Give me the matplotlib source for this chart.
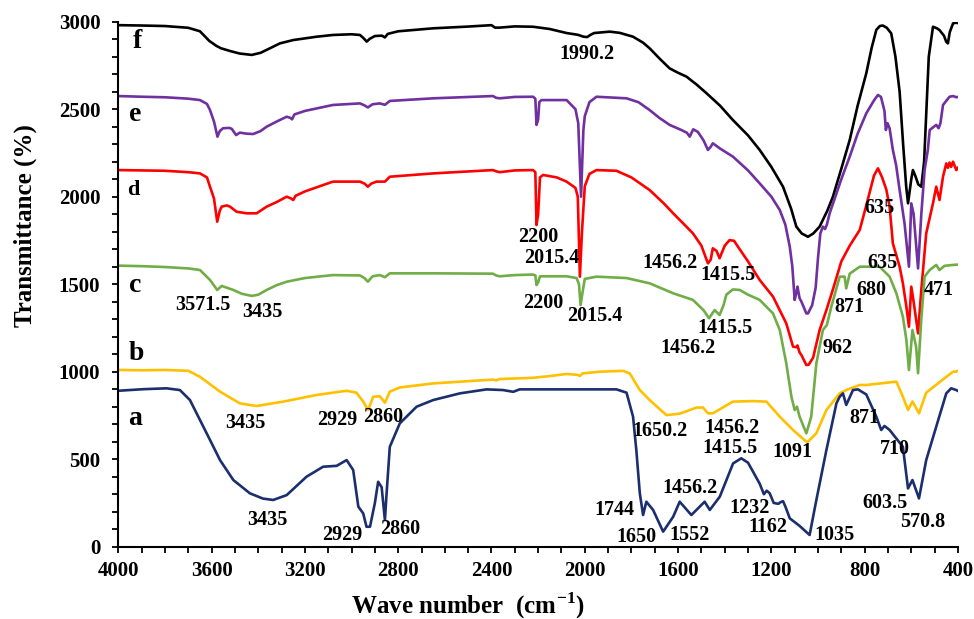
import matplotlib
matplotlib.use('Agg')
import matplotlib.pyplot as plt
import matplotlib.ticker as ticker

# FTIR spectra (wave number cm-1, transmittance offset)
f_wn = [4000, 3900, 3800, 3700, 3650, 3610, 3580, 3560, 3520, 3480, 3428, 3390, 3350, 3307, 3250, 3150,
        3080, 3000, 2964, 2948, 2935, 2922, 2900, 2870, 2857, 2845, 2800, 2650, 2500, 2400, 2385, 2365,
        2300, 2222, 2150, 2078, 2030, 2005, 1990, 1975, 1960, 1893, 1850, 1793, 1750, 1722, 1680, 1636,
        1600, 1564, 1520, 1478, 1420, 1365, 1300, 1250, 1200, 1150, 1115, 1093, 1070, 1043, 1020, 993,
        960, 936, 900, 864, 830, 793, 770, 750, 735, 722, 705, 686, 668, 650, 635, 622, 614, 600, 593,
        583, 570, 557, 545, 535, 525, 507, 490, 479, 460, 450, 443, 435, 421, 410, 400]
f_val = [2980, 2978, 2975, 2965, 2945, 2890, 2862, 2848, 2832, 2818, 2810, 2822, 2848, 2876, 2895, 2914,
         2924, 2928, 2924, 2905, 2886, 2902, 2918, 2920, 2910, 2930, 2945, 2962, 2972, 2980, 2966, 2966,
         2973, 2971, 2958, 2935, 2925, 2914, 2912, 2925, 2935, 2943, 2936, 2914, 2880, 2848, 2790, 2733,
         2708, 2686, 2640, 2591, 2520, 2438, 2350, 2267, 2170, 2057, 1930, 1829, 1790, 1771, 1790, 1829,
         1920, 2000, 2160, 2324, 2520, 2705, 2850, 2953, 2975, 2978, 2965, 2933, 2800, 2600, 2300, 2060,
         1962, 2100, 2152, 2120, 2070, 2057, 2200, 2500, 2800, 2971, 2962, 2952, 2920, 2885, 2876, 2940,
         2990, 2994, 2992]

e_wn = [4000, 3900, 3800, 3700, 3650, 3620, 3607, 3590, 3575, 3565, 3551, 3525, 3514, 3495, 3479, 3450,
        3422, 3390, 3364, 3320, 3278, 3262, 3255, 3245, 3200, 3080, 2964, 2945, 2930, 2910, 2879, 2857,
        2836, 2650, 2394, 2380, 2365, 2300, 2222, 2212, 2207, 2200, 2195, 2186, 2078, 2040, 2028, 2016,
        2006, 2000, 1980, 1950, 1821, 1770, 1722, 1680, 1636, 1586, 1562, 1550, 1535, 1515, 1490, 1472,
        1460, 1451, 1420, 1365, 1300, 1250, 1200, 1164, 1140, 1121, 1110, 1100, 1093, 1088, 1079, 1071,
        1050, 1043, 1025, 1010, 1000, 990, 979, 970, 962, 950, 900, 864, 830, 793, 760, 743, 730, 715,
        709, 702, 693, 679, 665, 650, 629, 610, 600, 590, 571, 557, 543, 529, 521, 493, 483, 475, 464,
        436, 420, 407, 400]
e_val = [2575, 2571, 2568, 2560, 2552, 2530, 2495, 2430, 2343, 2375, 2391, 2393, 2388, 2352, 2366, 2360,
         2358, 2375, 2400, 2430, 2457, 2450, 2442, 2470, 2490, 2524, 2533, 2522, 2510, 2528, 2533, 2525,
         2547, 2562, 2575, 2565, 2562, 2570, 2571, 2560, 2410, 2440, 2540, 2552, 2552, 2500, 2420, 2000,
         2380, 2460, 2540, 2571, 2562, 2540, 2495, 2450, 2410, 2381, 2365, 2343, 2385, 2370, 2320, 2267,
         2285, 2305, 2275, 2229, 2150, 2076, 2000, 1924, 1840, 1714, 1600, 1410, 1450, 1486, 1420, 1400,
         1333, 1333, 1380, 1480, 1650, 1790, 1829, 1815, 1840, 1905, 2100, 2229, 2360, 2476, 2550, 2581,
         2570, 2490, 2381, 2420, 2391, 2267, 2180, 2038, 1848, 1600, 1962, 1900, 1590, 1900, 2152, 2267,
         2381, 2410, 2391, 2420, 2524, 2571, 2575, 2568, 2570]

d_wn = [4000, 3900, 3800, 3700, 3650, 3620, 3607, 3590, 3576, 3565, 3557, 3535, 3521, 3493, 3450, 3407,
        3364, 3320, 3278, 3260, 3250, 3240, 3200, 3080, 2964, 2945, 2930, 2915, 2893, 2857, 2836, 2650,
        2394, 2380, 2365, 2300, 2222, 2212, 2207, 2200, 2192, 2179, 2120, 2078, 2040, 2030, 2021, 2012,
        2000, 1980, 1950, 1864, 1800, 1722, 1660, 1621, 1580, 1536, 1500, 1472, 1460, 1451, 1435, 1422,
        1400, 1379, 1360, 1336, 1300, 1250, 1193, 1136, 1107, 1093, 1088, 1079, 1071, 1050, 1040, 1021,
        993, 964, 936, 900, 864, 821, 793, 760, 743, 725, 707, 693, 679, 650, 636, 621, 610, 600, 590,
        571, 557, 536, 507, 493, 479, 464, 450, 443, 436, 429, 421, 407, 400]
d_val = [2152, 2150, 2148, 2140, 2133, 2110, 2057, 1990, 1857, 1920, 1943, 1950, 1943, 1914, 1905, 1905,
         1943, 1970, 2000, 1990, 1981, 2005, 2030, 2086, 2086, 2075, 2057, 2075, 2086, 2086, 2114, 2133,
         2152, 2145, 2140, 2150, 2152, 2140, 1838, 1900, 2110, 2124, 2110, 2086, 2050, 2000, 1543, 1800,
         2060, 2130, 2152, 2148, 2110, 2038, 1960, 1905, 1850, 1790, 1720, 1619, 1640, 1705, 1690, 1648,
         1720, 1752, 1748, 1700, 1630, 1524, 1429, 1276, 1143, 1140, 1150, 1110, 1095, 1038, 1040, 1080,
         1238, 1352, 1470, 1630, 1720, 1810, 1950, 2120, 2162, 2110, 2040, 1943, 1733, 1600, 1505, 1371,
         1257, 1486, 1400, 1219, 1467, 1790, 1962, 2057, 1981, 2114, 2190, 2165, 2195, 2170, 2200, 2152,
         2165]

c_wn = [4000, 3900, 3800, 3700, 3650, 3607, 3576, 3557, 3507, 3470, 3428, 3400, 3364, 3320, 3278, 3200,
        3080, 2964, 2945, 2930, 2910, 2879, 2857, 2836, 2650, 2394, 2380, 2365, 2300, 2222, 2212, 2207,
        2200, 2192, 2078, 2035, 2025, 2018, 2010, 2000, 1950, 1821, 1722, 1621, 1536, 1490, 1467, 1455,
        1443, 1422, 1405, 1393, 1365, 1336, 1300, 1250, 1193, 1164, 1136, 1114, 1100, 1090, 1079, 1050,
        1029, 1007, 979, 962, 943, 907, 886, 879, 864, 821, 736, 693, 664, 636, 621, 610, 595, 579, 571,
        557, 543, 521, 493, 479, 457, 421, 400]
c_val = [1606, 1603, 1598, 1590, 1581, 1524, 1467, 1490, 1467, 1445, 1433, 1440, 1467, 1495, 1514, 1535,
         1552, 1550, 1535, 1514, 1545, 1552, 1540, 1562, 1562, 1560, 1550, 1545, 1552, 1555, 1550, 1495,
         1510, 1545, 1545, 1535, 1500, 1381, 1450, 1530, 1543, 1535, 1505, 1448, 1410, 1350, 1305, 1330,
         1352, 1324, 1380, 1440, 1470, 1467, 1440, 1410, 1333, 1238, 1048, 857, 781, 800, 743, 648,
         743, 1048, 1238, 1267, 1371, 1543, 1543, 1476, 1560, 1600, 1600, 1543, 1448, 1314, 1181, 1010,
         1238, 1140, 991, 1300, 1543, 1581, 1610, 1581, 1605, 1610, 1612]

b_wn = [4000, 3900, 3800, 3700, 3650, 3564, 3479, 3407, 3293, 3150, 3021, 2979, 2950, 2929, 2907, 2879,
        2857, 2836, 2793, 2650, 2394, 2380, 2365, 2222, 2150, 2078, 2030, 2021, 2010, 1936, 1836, 1807,
        1764, 1722, 1650, 1593, 1521, 1493, 1472, 1451, 1415, 1365, 1279, 1221, 1164, 1107, 1050, 1043,
        1007, 964, 907, 879, 821, 793, 664, 636, 614, 595, 567, 536, 479, 421, 407, 400]
b_val = [1010, 1008, 1010, 1005, 971, 886, 819, 804, 829, 867, 891, 880, 829, 781, 857, 860,
         823, 886, 910, 933, 955, 950, 958, 965, 975, 987, 982, 975, 990, 1000, 1005, 990,
         895, 838, 752, 760, 795, 795, 762, 762, 790, 829, 832, 829, 743, 667, 600, 600,
         648, 781, 876, 895, 924, 924, 943, 857, 781, 830, 762, 880, 940, 1000, 1000, 1005]

a_wn = [4000, 3893, 3793, 3736, 3693, 3650, 3607, 3564, 3507, 3436, 3380, 3336, 3278, 3193, 3122, 3064,
        3021, 2993, 2971, 2950, 2936, 2921, 2900, 2886, 2871, 2857, 2850, 2836, 2793, 2721, 2650, 2536,
        2421, 2350, 2307, 2279, 1864, 1821, 1793, 1779, 1764, 1750, 1736, 1707, 1664, 1621, 1593, 1543,
        1486, 1464, 1421, 1364, 1329, 1300, 1250, 1232, 1220, 1207, 1190, 1170, 1160, 1150, 1140, 1121,
        1080, 1036, 1007, 964, 921, 907, 893, 879, 850, 829, 793, 750, 729, 715, 693, 636, 614, 595,
        567, 536, 493, 450, 429, 407, 400]
a_val = [891, 900, 905, 895, 838, 724, 610, 495, 381, 305, 275, 267, 295, 400, 457, 462,
         495, 438, 229, 190, 114, 114, 250, 371, 340, 152, 300, 571, 705, 800, 838, 876,
         899, 895, 885, 899, 899, 880, 743, 552, 305, 181, 257, 210, 86, 171, 257, 181,
         257, 210, 286, 476, 505, 480, 360, 300, 320, 305, 250, 245, 255, 260, 230, 162,
         120, 67, 267, 552, 819, 857, 876, 810, 895, 899, 870, 743, 667, 690, 667, 571, 333, 381,
         276, 495, 686, 876, 905, 895, 890]

curve_names = ['f', 'e', 'd', 'c', 'b', 'a']
curve_colors = ['#000000', '#7030A0', '#FF0000', '#70AD47', '#FFC000', '#1B2F6E']

# peak labels: (text, wave number, transmittance)
peak_labels = [
    ('1990.2', 1991, 2815),
    ('2200', 2201, 1770), ('2015.4', 2141, 1650), ('1456.2', 1636, 1620), ('1415.5', 1387, 1553),
    ('635', 736, 1935), ('635', 723, 1620), ('680', 770, 1467), ('871', 864, 1370), ('471', 483, 1467),
    ('3571.5', 3637, 1381), ('3435', 3384, 1341), ('2200', 2180, 1393), ('2015.4', 1957, 1318),
    ('1415.5', 1400, 1250), ('1456.2', 1558, 1135), ('962', 916, 1135),
    ('3435', 3457, 707), ('2929', 3063, 724), ('2860', 2866, 741), ('1650.2', 1678, 661),
    ('1456.2', 1370, 678), ('1415.5', 1379, 564), ('1091', 1108, 541), ('871', 800, 735), ('710', 671, 558),
    ('1456.2', 1550, 335), ('1744', 1871, 210), ('1232', 1293, 221), ('603.5', 714, 250),
    ('570.8', 551, 141), ('1650', 1777, 55), ('1552', 1550, 67), ('1162', 1216, 112), ('1035', 928, 67),
    ('3435', 3363, 152), ('2929', 3041, 67), ('2860', 2793, 101),
]
letter_pos = [('f', 3920, 2884), ('e', 3929, 2467), ('d', 3937, 2038),
              ('c', 3929, 1495), ('b', 3921, 1105), ('a', 3929, 735)]

plt.rcParams['font.family'] = ['Liberation Serif', 'DejaVu Serif']
plt.rcParams['font.weight'] = 'bold'
plt.rcParams['mathtext.fontset'] = 'custom'
plt.rcParams['mathtext.rm'] = 'Liberation Serif:bold'
plt.rcParams['mathtext.bf'] = 'Liberation Serif:bold'

fig = plt.figure(figsize=(9.74, 6.19), dpi=100)
ax = fig.add_axes([0.1215, 0.1168, 0.862, 0.8482])

series = [(f_wn, f_val), (e_wn, e_val), (d_wn, d_val), (c_wn, c_val), (b_wn, b_val), (a_wn, a_val)]
for (wn, val), name, col in zip(series, curve_names, curve_colors):
    ax.plot(wn, val, color=col, lw=1.9, label=name, solid_joinstyle='round')

for txt, x, y in peak_labels:
    ax.text(x, y, txt, ha='center', va='center', fontsize=14.5, fontweight='bold')
for txt, x, y in letter_pos:
    ax.text(x, y, txt, ha='center', va='center', fontsize=16 if txt == 'd' else 20, fontweight='bold')

ax.set_xlim(4000, 400)
ax.set_ylim(0, 3000)
ax.xaxis.set_major_locator(ticker.MultipleLocator(400))
ax.xaxis.set_minor_locator(ticker.MultipleLocator(100))
ax.yaxis.set_major_locator(ticker.MultipleLocator(500))
ax.yaxis.set_minor_locator(ticker.MultipleLocator(100))
ax.tick_params(which='both', direction='out', length=4, width=1.3, labelsize=15)
ax.tick_params(axis='x', which='major', pad=6)
ax.tick_params(axis='y', which='major', pad=9)
for lab in ax.get_xticklabels() + ax.get_yticklabels():
    lab.set_fontweight('bold')

ax.spines['top'].set_visible(False)
ax.spines['right'].set_visible(False)
ax.spines['left'].set_linewidth(1.5)
ax.spines['bottom'].set_linewidth(1.5)

ax.set_xlabel('Wave number  (cm$^{\\mathrm{-1}}$)', fontsize=18, fontweight='bold')
ax.set_ylabel('Transmittance (%)', fontsize=18, fontweight='bold')
ax.xaxis.set_label_coords(0.4165, -0.083)
ax.yaxis.set_label_coords(-0.097, 0.611)

fig.savefig('out.png', dpi=100)
